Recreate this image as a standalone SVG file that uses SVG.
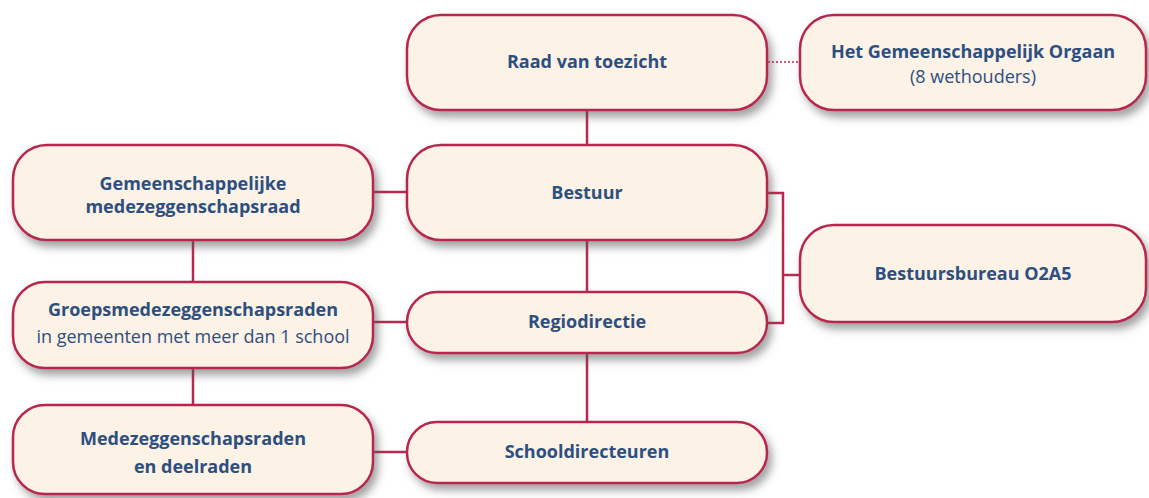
<svg xmlns="http://www.w3.org/2000/svg" width="1149" height="498" viewBox="0 0 1149 498">
<defs>
<filter id="sh" x="-10%" y="-20%" width="125%" height="150%">
<feDropShadow dx="4" dy="6" stdDeviation="4" flood-color="#555" flood-opacity="0.55"/>
</filter>
<style>
.box{fill:#fcf2e6;stroke:#b8284f;stroke-width:2.5;filter:url(#sh)}
.c{stroke:#b8284f;stroke-width:2.5;fill:none}
.d{stroke:#b8284f;stroke-width:1.5;fill:none;stroke-dasharray:2 2}
.t{font-family:"Open Sans","Noto Sans",sans-serif;font-weight:700;font-size:18px;fill:#2d4f7f;text-anchor:middle}
.r{font-weight:400}
</style>
</defs>
<rect width="1149" height="498" fill="#fff"/>
<g id="connectors">
<line class="d" x1="768" y1="62" x2="800" y2="62"/>
<line class="c" x1="587" y1="110" x2="587" y2="145"/>
<line class="c" x1="587" y1="240" x2="587" y2="292"/>
<line class="c" x1="587" y1="353" x2="587" y2="422"/>
<line class="c" x1="193" y1="240" x2="193" y2="282"/>
<line class="c" x1="193" y1="368" x2="193" y2="405"/>
<line class="c" x1="373" y1="192" x2="407" y2="192"/>
<line class="c" x1="373" y1="322" x2="407" y2="322"/>
<line class="c" x1="373" y1="452" x2="407" y2="452"/>
<polyline class="c" points="767,193 783,193 783,323 767,323"/>
<line class="c" x1="783" y1="275" x2="800" y2="275"/>
</g>
<g id="raad">
<rect class="box" x="407" y="15" width="360" height="95" rx="34"/>
<text class="t" x="587" y="68">Raad van toezicht</text>
</g>
<g id="orgaan">
<rect class="box" x="800" y="15" width="346" height="95" rx="34"/>
<text class="t" x="973" y="58">Het Gemeenschappelijk Orgaan</text>
<text class="t r" x="973" y="83">(8 wethouders)</text>
</g>
<g id="bestuur">
<rect class="box" x="407" y="145" width="360" height="95" rx="34"/>
<text class="t" x="587" y="199">Bestuur</text>
</g>
<g id="gmr">
<rect class="box" x="13" y="145" width="360" height="95" rx="34"/>
<text class="t" x="193" y="190">Gemeenschappelijke</text>
<text class="t" x="193" y="213">medezeggenschapsraad</text>
</g>
<g id="bestuursbureau">
<rect class="box" x="800" y="225" width="346" height="97" rx="34"/>
<text class="t" x="973" y="280">Bestuursbureau O2A5</text>
</g>
<g id="groeps">
<rect class="box" x="13" y="282" width="360" height="86" rx="32"/>
<text class="t" x="193" y="316">Groepsmedezeggenschapsraden</text>
<text class="t r" x="193" y="343">in gemeenten met meer dan 1 school</text>
</g>
<g id="regiodirectie">
<rect class="box" x="407" y="292" width="360" height="61" rx="30"/>
<text class="t" x="587" y="328">Regiodirectie</text>
</g>
<g id="mr">
<rect class="box" x="13" y="405" width="360" height="89" rx="32"/>
<text class="t" x="193" y="445">Medezeggenschapsraden</text>
<text class="t" x="193" y="473">en deelraden</text>
</g>
<g id="schooldirecteuren">
<rect class="box" x="407" y="422" width="360" height="61" rx="30"/>
<text class="t" x="587" y="458">Schooldirecteuren</text>
</g>
</svg>
